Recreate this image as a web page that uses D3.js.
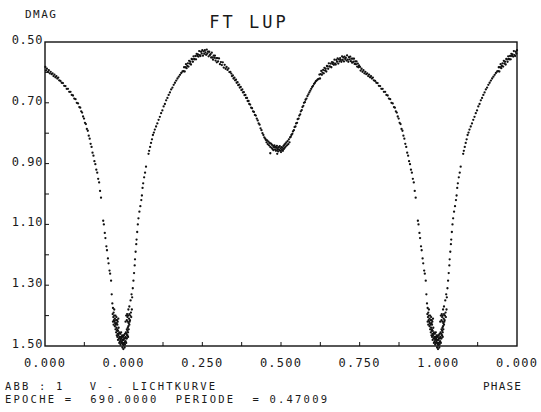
<!DOCTYPE html>
<html>
<head>
<meta charset="utf-8">
<script src="https://cdn.jsdelivr.net/npm/d3@7"></script>
<style>
  body { margin: 0; background: #fff; }
  svg { display: block; }
  text { font-family: "DejaVu Sans Mono", monospace; fill: #1a1a1a; white-space: pre; }
</style>
</head>
<body>
<div id="chart"></div>
<script>
const primaryMin = [
  [0.962,1.33],[0.964,1.36],[0.966,1.375],
  [0.965,1.395],[0.967,1.405],[0.968,1.39],[0.969,1.415],[0.970,1.40],[0.971,1.42],[0.972,1.41],
  [0.973,1.425],[0.974,1.40],[0.975,1.43],[0.976,1.415],[0.977,1.405],[0.978,1.425],[0.979,1.415],
  [0.980,1.43],[0.981,1.42],
  [0.977,1.44],[0.979,1.45],[0.980,1.445],[0.981,1.46],[0.982,1.45],[0.983,1.465],[0.984,1.44],
  [0.985,1.475],[0.986,1.455],[0.987,1.47],[0.988,1.485],[0.989,1.46],[0.990,1.48],[0.991,1.47],
  [0.992,1.49],[0.993,1.475],[0.994,1.485],[0.995,1.465],[0.996,1.49],[0.997,1.48],[0.998,1.47],
  [0.999,1.49],[0.000,1.48],[0.001,1.465],[0.002,1.49],[0.003,1.475],[0.004,1.46],[0.005,1.485],
  [0.006,1.47],[0.007,1.455],[0.008,1.475],[0.009,1.46],[0.010,1.445],[0.011,1.465],[0.012,1.45],
  [0.013,1.44],[0.014,1.455],[0.015,1.435],
  [0.972,1.435],[0.974,1.445],[0.976,1.455],[0.978,1.465],[0.980,1.47],[0.982,1.48],[0.984,1.46],
  [0.986,1.49],[0.988,1.475],[0.990,1.495],[0.992,1.455],[0.994,1.47],[0.996,1.48],[0.998,1.495],
  [0.000,1.465],[0.002,1.475],[0.004,1.495],[0.006,1.485],[0.008,1.49],[0.010,1.475],[0.012,1.465],
  [0.014,1.47],[0.016,1.445],[0.018,1.43],[0.966,1.42],[0.968,1.43],[0.970,1.38],[0.983,1.41],
  [0.006,1.42],[0.008,1.40],[0.010,1.415],[0.011,1.395],[0.013,1.42],[0.014,1.40],[0.016,1.425],
  [0.017,1.41],[0.018,1.395],[0.020,1.415],[0.021,1.40],[0.023,1.39],[0.019,1.42],[0.024,1.405],
  [0.026,1.38],[0.015,1.38],[0.012,1.405],
  [0.018,1.37],[0.022,1.35],[0.025,1.33],
  [0.996,1.505],[0.999,1.51],[0.003,1.505]
];

const riseBranch = [
  [0.027,1.34],[0.029,1.31],[0.031,1.285],[0.033,1.26],[0.035,1.235],[0.036,1.215],[0.038,1.19],
  [0.040,1.165],[0.041,1.15],[0.043,1.125],[0.045,1.10],[0.047,1.08],[0.050,1.058],[0.053,1.04],
  [0.056,1.02],[0.058,1.005],[0.060,0.98],[0.062,0.965],[0.065,0.945],[0.068,0.93],[0.071,0.91],
  [0.079,0.868],[0.081,0.858],[0.084,0.845],[0.087,0.832],[0.090,0.82],[0.093,0.806],[0.096,0.798],
  [0.099,0.788],[0.103,0.778],[0.107,0.768],[0.111,0.756],[0.115,0.746],[0.119,0.734],[0.123,0.725],
  [0.127,0.712],[0.131,0.704],[0.135,0.692],[0.139,0.684],[0.143,0.674],[0.147,0.666],[0.151,0.656],
  [0.155,0.650],[0.159,0.641],[0.163,0.634],[0.167,0.627],[0.171,0.620],[0.175,0.614],[0.179,0.608],
  [0.183,0.602],[0.187,0.597]
];

const maxOne = [
  [0.190,0.596],[0.192,0.583],[0.194,0.597],[0.196,0.583],[0.198,0.573],[0.200,0.586],[0.202,0.579],
  [0.204,0.570],[0.206,0.581],[0.208,0.562],[0.210,0.571],[0.212,0.565],[0.214,0.574],[0.216,0.556],
  [0.218,0.557],[0.220,0.565],[0.222,0.547],[0.224,0.556],[0.226,0.557],[0.228,0.546],[0.230,0.557],
  [0.232,0.539],[0.234,0.546],[0.236,0.541],[0.238,0.548],[0.240,0.530],[0.242,0.543],[0.244,0.546],
  [0.246,0.532],[0.248,0.538],[0.250,0.527],[0.252,0.545],[0.254,0.531],[0.256,0.539],[0.258,0.527],
  [0.260,0.534],[0.262,0.542],[0.264,0.525],[0.266,0.538],[0.268,0.532],[0.270,0.547],[0.272,0.532],
  [0.274,0.543],[0.276,0.540],[0.278,0.551],[0.280,0.535],[0.282,0.551],[0.284,0.558],[0.286,0.545],
  [0.288,0.552],[0.290,0.545],[0.292,0.561],[0.294,0.553],[0.296,0.567],[0.298,0.553],[0.300,0.564],
  [0.303,0.554],[0.306,0.573],[0.309,0.566],[0.312,0.576],[0.315,0.567],[0.318,0.584],[0.321,0.575],
  [0.324,0.588],[0.327,0.582],[0.330,0.592],[0.333,0.587],[0.336,0.599],[0.339,0.598]
];

const fallToSecondary = [
  [0.342,0.604],[0.344,0.612],[0.347,0.610],[0.349,0.620],[0.352,0.617],[0.354,0.626],[0.357,0.624],
  [0.359,0.634],[0.362,0.632],[0.364,0.642],[0.367,0.640],[0.369,0.650],[0.372,0.648],[0.374,0.658],
  [0.377,0.656],[0.379,0.666],[0.382,0.665],[0.384,0.675],[0.387,0.674],[0.389,0.684],[0.392,0.684],
  [0.394,0.694],[0.397,0.694],[0.399,0.704],[0.402,0.706],[0.405,0.716],[0.408,0.718],[0.411,0.728],
  [0.414,0.730],[0.417,0.740],[0.420,0.742],[0.423,0.752],[0.426,0.758],[0.429,0.768],[0.432,0.772],
  [0.435,0.784],[0.438,0.790],[0.441,0.800],[0.444,0.806],[0.447,0.814],[0.450,0.818]
];

const secondaryMin = [
  [0.452,0.822],[0.454,0.830],[0.456,0.824],[0.458,0.836],[0.460,0.828],[0.462,0.840],[0.464,0.832],
  [0.466,0.845],[0.468,0.834],[0.470,0.848],[0.471,0.838],[0.473,0.852],[0.475,0.842],[0.476,0.856],
  [0.478,0.846],[0.479,0.840],[0.481,0.853],[0.482,0.845],[0.484,0.858],[0.485,0.848],[0.487,0.842],
  [0.488,0.855],[0.490,0.849],[0.491,0.860],[0.493,0.846],[0.494,0.854],[0.496,0.843],[0.497,0.857],
  [0.499,0.850],[0.500,0.862],[0.502,0.846],[0.503,0.855],[0.505,0.848],[0.506,0.858],[0.508,0.842],
  [0.509,0.852],[0.511,0.838],[0.512,0.848],[0.514,0.834],[0.515,0.844],[0.517,0.830],[0.519,0.840],
  [0.521,0.826],[0.523,0.836],[0.525,0.820],[0.527,0.830],[0.529,0.814],[0.466,0.866],[0.488,0.868]
];

const riseToMaxTwo = [
  [0.531,0.812],[0.533,0.806],[0.536,0.802],[0.538,0.794],[0.541,0.790],[0.543,0.780],[0.546,0.778],
  [0.548,0.768],[0.551,0.766],[0.553,0.754],[0.556,0.752],[0.558,0.742],[0.561,0.738],[0.563,0.728],
  [0.566,0.724],[0.568,0.714],[0.571,0.710],[0.573,0.700],[0.576,0.698],[0.578,0.690],[0.581,0.686],
  [0.584,0.678],[0.587,0.672],[0.590,0.666],[0.593,0.660],[0.596,0.654],[0.599,0.648],[0.602,0.644],
  [0.605,0.638],[0.608,0.634],[0.611,0.629],[0.614,0.626],[0.617,0.623]
];

const maxTwo = [
  [0.620,0.621],[0.622,0.607],[0.624,0.620],[0.626,0.606],[0.628,0.595],[0.630,0.608],[0.632,0.601],
  [0.634,0.592],[0.636,0.603],[0.638,0.585],[0.640,0.594],[0.642,0.588],[0.644,0.597],[0.646,0.579],
  [0.648,0.580],[0.650,0.588],[0.652,0.570],[0.654,0.580],[0.656,0.581],[0.658,0.571],[0.660,0.583],
  [0.662,0.566],[0.664,0.572],[0.666,0.568],[0.668,0.575],[0.670,0.558],[0.672,0.571],[0.674,0.574],
  [0.676,0.559],[0.678,0.565],[0.680,0.554],[0.682,0.571],[0.684,0.557],[0.686,0.564],[0.688,0.553],
  [0.690,0.559],[0.692,0.565],[0.694,0.547],[0.696,0.559],[0.698,0.551],[0.700,0.564],[0.702,0.548],
  [0.704,0.556],[0.706,0.552],[0.708,0.561],[0.710,0.544],[0.712,0.558],[0.714,0.565],[0.716,0.550],
  [0.718,0.557],[0.720,0.548],[0.722,0.563],[0.724,0.555],[0.726,0.568],[0.728,0.555],[0.730,0.565],
  [0.732,0.555],[0.734,0.572],[0.736,0.564],[0.738,0.573],[0.740,0.564],[0.742,0.581],[0.744,0.571],
  [0.746,0.583],[0.748,0.577]
];

const fallBranch = [
  [0.751,0.582],[0.753,0.594],[0.756,0.588],[0.759,0.598],[0.762,0.593],[0.765,0.603],[0.768,0.598],
  [0.771,0.606],[0.774,0.603],[0.777,0.612],[0.780,0.607],[0.783,0.616],[0.786,0.612],[0.789,0.620],
  [0.792,0.617],[0.795,0.626],[0.799,0.628],[0.803,0.634],[0.807,0.635],[0.811,0.644],[0.815,0.645],
  [0.819,0.654],[0.823,0.654],[0.827,0.664],[0.831,0.664],[0.835,0.674],[0.839,0.676],[0.843,0.686],
  [0.847,0.688],[0.851,0.700],[0.855,0.702],[0.859,0.714],[0.862,0.716],[0.865,0.728],[0.868,0.732],
  [0.871,0.745],[0.874,0.752],[0.877,0.766],[0.880,0.770],[0.883,0.786],[0.886,0.792],[0.889,0.808],
  [0.892,0.818],[0.895,0.835],[0.898,0.845],[0.901,0.864],[0.904,0.874],[0.907,0.892],[0.910,0.902],
  [0.913,0.920],[0.916,0.930],[0.919,0.950],[0.922,0.962],[0.925,0.990],[0.928,1.012],[0.935,1.088],
  [0.937,1.100],[0.940,1.128],[0.942,1.145],[0.945,1.172],[0.947,1.185],[0.950,1.212],[0.952,1.228],
  [0.955,1.252],[0.957,1.262],[0.960,1.285]
];

const yTickValues = [0.5, 0.7, 0.9, 1.1, 1.3, 1.5];
const yTickLabels = ["0.50", "0.70", "0.90", "1.10", "1.30", "1.50"];
const xTickValues = [-0.25, 0, 0.25, 0.5, 0.75, 1, 1.25];
const xTickLabels = ["0.000", "0.000", "0.250", "0.500", "0.750", "1.000", "0.000"];

const width = 541, height = 412;
const box = { left: 45, right: 517, top: 42, bottom: 346 };

const x = d3.scaleLinear().domain([-0.25, 1.25]).range([box.left, box.right]);
const y = d3.scaleLinear().domain([0.5, 1.5]).range([box.top, box.bottom]);

// one folded cycle, repeated a quarter phase on both sides like the plot
const cycle = [].concat(primaryMin, riseBranch, maxOne, fallToSecondary,
  secondaryMin, riseToMaxTwo, maxTwo, fallBranch);
const points = [];
cycle.forEach(([p, m]) => {
  points.push([p, m]);
  if (p >= 0.75) points.push([p - 1, m]);
  if (p <= 0.25) points.push([p + 1, m]);
});

const svg = d3.select("#chart").append("svg")
  .attr("width", width)
  .attr("height", height);

// ticks
const yMinor = d3.range(0.6, 1.5, 0.1);
svg.append("g")
  .attr("stroke", "#111")
  .selectAll("line")
  .data(yMinor)
  .join("line")
  .attr("x1", box.left).attr("x2", box.left + 4)
  .attr("y1", d => y(d)).attr("y2", d => y(d));

const xMinor = d3.range(-0.125, 1.25, 0.125);
svg.append("g")
  .attr("stroke", "#111")
  .selectAll("line")
  .data(xMinor)
  .join("line")
  .attr("x1", d => x(d)).attr("x2", d => x(d))
  .attr("y1", box.bottom).attr("y2", box.bottom - 4);

// frame
svg.append("rect")
  .attr("x", box.left).attr("y", box.top)
  .attr("width", box.right - box.left).attr("height", box.bottom - box.top)
  .attr("fill", "none")
  .attr("stroke", "#111")
  .attr("stroke-width", 1.4);

// data dots
svg.append("g")
  .selectAll("circle")
  .data(points.filter(d => d[0] >= -0.25 && d[0] <= 1.25))
  .join("circle")
  .attr("cx", d => x(d[0]))
  .attr("cy", d => y(d[1]))
  .attr("r", 1.15)
  .attr("fill", "#111");

// axis labels
svg.append("g")
  .attr("font-size", 12)
  .attr("text-anchor", "end")
  .attr("letter-spacing", 0.6)
  .selectAll("text")
  .data(yTickValues)
  .join("text")
  .attr("x", box.left - 2)
  .attr("y", d => y(d) + 2)
  .text((d, i) => yTickLabels[i]);

svg.append("g")
  .attr("font-size", 12)
  .attr("text-anchor", "middle")
  .attr("letter-spacing", 1.2)
  .selectAll("text")
  .data(xTickValues)
  .join("text")
  .attr("x", d => x(d))
  .attr("y", box.bottom + 21)
  .text((d, i) => xTickLabels[i]);

svg.append("text")
  .attr("x", 25).attr("y", 18)
  .attr("font-size", 11).attr("letter-spacing", 1.5)
  .text("DMAG");

svg.append("text")
  .attr("x", 249).attr("y", 28)
  .attr("text-anchor", "middle")
  .attr("font-size", 17).attr("letter-spacing", 3)
  .attr("fill", "#333")
  .text("FT LUP");

svg.append("text")
  .attr("x", 483).attr("y", 390)
  .attr("font-size", 11).attr("letter-spacing", 1.2)
  .text("PHASE");

svg.append("text")
  .attr("x", 5).attr("y", 390)
  .attr("font-size", 10.5)
  .attr("textLength", 210)
  .text("ABB : 1   V -  LICHTKURVE");

svg.append("text")
  .attr("x", 5).attr("y", 403)
  .attr("font-size", 10.5)
  .attr("textLength", 322)
  .text("EPOCHE =  690.0000  PERIODE  = 0.47009");
</script>
</body>
</html>
